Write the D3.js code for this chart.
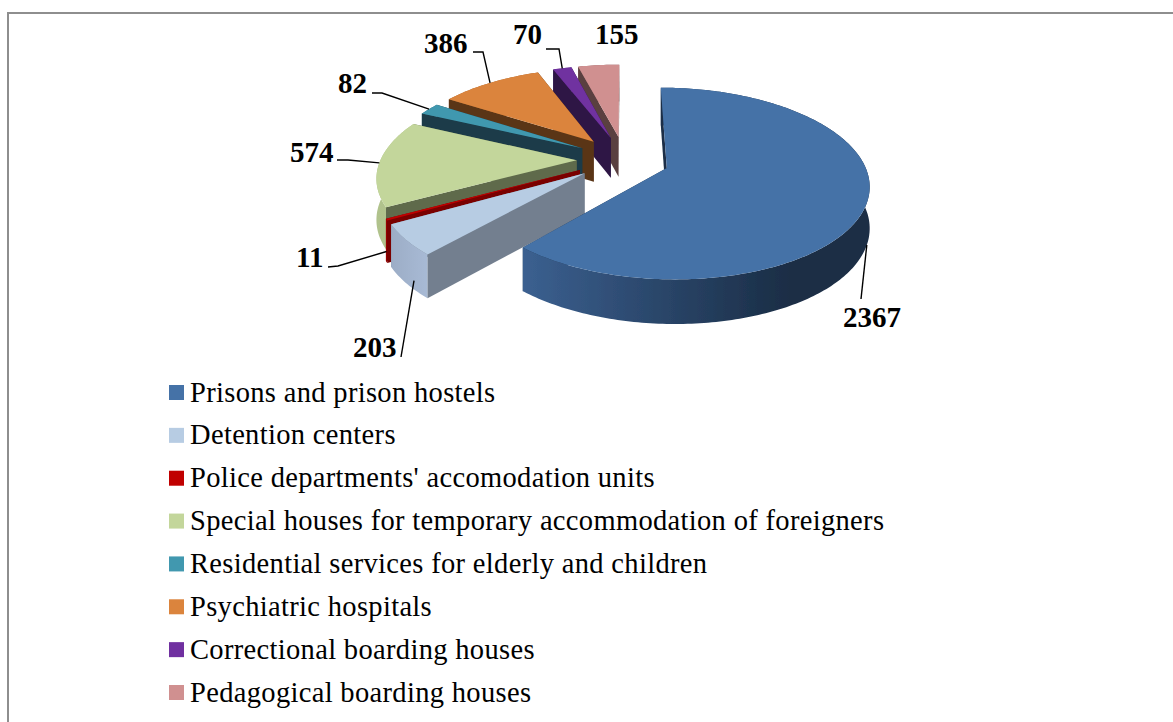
<!DOCTYPE html>
<html>
<head>
<meta charset="utf-8">
<script src="https://d3js.org/d3.v7.min.js"></script>
<style>
    html, body { margin: 0; padding: 0; background: #fff; }
    svg { display: block; }
    text { font-family: "Liberation Serif", serif; fill: #000; }
</style>
</head>
<body>
<div id="chart"></div>
<script>
// chart values
const categories = [
    "Prisons and prison hostels",
    "Detention centers",
    "Police departments' accomodation units",
    "Special houses for temporary accommodation of foreigners",
    "Residential services for elderly and children",
    "Psychiatric hospitals",
    "Correctional boarding houses",
    "Pedagogical boarding houses"
];
const values = [2367, 203, 11, 574, 82, 386, 70, 155];

// slice colours
const topColors = ["#4572a7", "#b7cce3", "#c00000", "#c3d69b", "#4198af", "#db843d", "#7030a0", "#d09090"];
const sideColors = ["#1b2e46", "#737f8f", "#7a0000", "#5f6b4b", "#1b3b48", "#5a3618", "#2d1544", "#5a3f3f"];
const rimLeftColors = ["#3b6090", "#9cadc6", "#8f0000", "#b0c28c", "#2f7080", "#a5632d", "#4d2270", "#96686a"];
const rimRightColors = ["#1a2d45", "#a8bad5", "#a00000", "#b4c68f", "#2f7080", "#a5632d", "#4d2270", "#96686a"];

// how far each slice is pulled out sideways and in depth
const pullX = [1, 1.1, 1.1, 1.05, 1.08, 1.1, 1, 1];
const pullY = [1, 0.9, 0.9, 1, 1, 1, 1, 1];

// hand placed labels and their leader lines: text start, baseline, elbow,
// where along the rim the line lands and how far down the wall
const labelX = [843, 353, 296, 290, 338, 424, 513, 595];
const labelY = [327, 357, 267, 162, 93, 53, 44, 44];
const elbows = [null, null, [338, 266], [348, 160], [382, 93], [483, 52], [559, 49], null];
const leaderStart = [[861, 299], [401, 357], [328, 267], [337, 160], [372, 93], [473, 52], [546, 49], null];
const rimAlong = [0.5, 0.3, 0.5, 0.5, 0.5, 0.5, 0.5, 0.5];
const rimFraction = [1, 0.8, 0.75, 0, 0, 0, 0, 0];

const width = 1173,
    height = 722;

// projection of the tilted pie plane
const cx = 624,
    cy = 159.5,
    rx = 196,
    ry = 90.6,
    perspective = 0.16,
    depth = 40.5,
    explodeX = 0.23,
    explodeY = 0.26;

function project(u, v, drop) {
    let w = 1 - perspective * v;
    // the wall height changes less with distance than the plane does
    return [cx + rx * u / w, cy + ry * v / w + depth * (drop || 0) / Math.sqrt(w)];
}

// point in a slice, t = 0 at the apex and t = 1 on the rim
function slicePoint(d, angle, t, drop) {
    let mid = (d.startAngle + d.endAngle) / 2;
    let u = pullX[d.index] * explodeX * Math.sin(mid) + t * Math.sin(angle);
    let v = -pullY[d.index] * explodeY * Math.cos(mid) - t * Math.cos(angle);
    return project(u, v, drop);
}

let svg = d3.select("#chart")
    .append("svg")
    .attr("width", width)
    .attr("height", height);

let defs = svg.append("defs");

// the source is a slightly soft raster
defs.append("filter")
    .attr("id", "soft")
    .append("feGaussianBlur")
    .attr("stdDeviation", 0.4);

// frame, open on the right and at the bottom
svg.append("path")
    .attr("d", "M8,722V13H1173")
    .attr("fill", "none")
    .attr("stroke", "#8e8e8e")
    .attr("stroke-width", 2);

let pie = d3.pie()
    .sort(null)
    .startAngle(0)
    .endAngle(2 * Math.PI);

let slices = pie(values);
let color = d3.scaleOrdinal().domain(categories).range(topColors);
let line = d3.line();

let pieGroup = svg.append("g")
    .attr("class", "pie")
    .attr("filter", "url(#soft)");

// back slices first so the near ones cover them
let drawOrder = [7, 6, 5, 4, 3, 2, 1, 0];

drawOrder.forEach(i => {
    let d = slices[i];
    let g = pieGroup.append("g");

    let angles = d3.range(d.startAngle, d.endAngle, Math.PI / 180).concat(d.endAngle);
    let rim = angles.map(a => slicePoint(d, a, 1, 0));
    let rimLow = angles.map(a => slicePoint(d, a, 1, 1));
    let apex = slicePoint(d, 0, 0, 0);
    let apexLow = slicePoint(d, 0, 0, 1);
    let middle = rim[Math.floor(rim.length / 2)];

    // a flat wall looks at the viewer when the slice lies above its edge
    function facesViewer(p) {
        let ex = p[0] - apex[0],
            ey = p[1] - apex[1];
        return (ex * (middle[1] - apex[1]) - ey * (middle[0] - apex[0])) * ex < 0;
    }

    let walls = [[rim[0], rimLow[0]], [rim[rim.length - 1], rimLow[rimLow.length - 1]]];

    function drawWall(w) {
        g.append("path")
            .attr("d", line([apex, w[0], w[1], apexLow]) + "Z")
            .attr("fill", sideColors[i]);
    }

    walls.filter(w => !facesViewer(w[0])).forEach(drawWall);

    // rim wall with a left to right gradient
    let gradient = defs.append("linearGradient")
        .attr("id", "rim" + i)
        .attr("gradientUnits", "userSpaceOnUse")
        .attr("x1", d3.min(rim, p => p[0]))
        .attr("x2", i === 0 ? 790 : d3.max(rim, p => p[0]))
        .attr("y1", 0)
        .attr("y2", 0);
    gradient.append("stop").attr("offset", 0).attr("stop-color", rimLeftColors[i]);
    gradient.append("stop").attr("offset", 1).attr("stop-color", rimRightColors[i]);

    g.append("path")
        .attr("d", line(rim.concat(rimLow.slice().reverse())) + "Z")
        .attr("fill", "url(#rim" + i + ")");

    walls.filter(w => facesViewer(w[0])).forEach(drawWall);

    // top face
    g.append("path")
        .attr("d", line([apex].concat(rim)) + "Z")
        .attr("fill", color(categories[i]));
});

// leader lines end on the slice they belong to
slices.forEach((d, i) => {
    if (!leaderStart[i]) return;
    let landing = d.startAngle + rimAlong[i] * (d.endAngle - d.startAngle);
    let end = slicePoint(d, landing, 1, rimFraction[i]);
    let points = [leaderStart[i]];
    if (elbows[i]) points.push(elbows[i]);
    points.push(end);
    svg.append("path")
        .attr("d", line(points))
        .attr("fill", "none")
        .attr("stroke", "#000")
        .attr("stroke-width", 1.4);
});

svg.selectAll(".value-label")
    .data(values)
    .enter()
    .append("text")
    .attr("class", "value-label")
    .attr("x", (d, i) => labelX[i])
    .attr("y", (d, i) => labelY[i])
    .attr("font-size", "29px")
    .attr("font-weight", "bold")
    .text(d => d);

// legend
let legendY = d3.scalePoint()
    .domain(categories)
    .range([385, 685]);

let legend = svg.selectAll(".legend-item")
    .data(categories)
    .enter()
    .append("g")
    .attr("class", "legend-item")
    .attr("transform", d => "translate(169," + legendY(d) + ")");

legend.append("rect")
    .attr("width", 15)
    .attr("height", 15)
    .attr("fill", d => color(d));

legend.append("text")
    .attr("x", 21)
    .attr("y", 16.6)
    .attr("font-size", "28.5px")
    .attr("letter-spacing", "0.33px")
    .text(d => d);
</script>
</body>
</html>
